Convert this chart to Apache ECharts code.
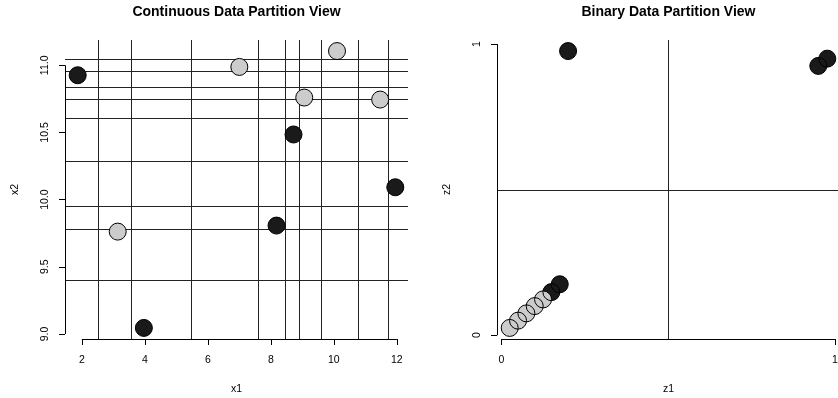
<!DOCTYPE html>
<html><head><meta charset="utf-8">
<script src="https://cdn.jsdelivr.net/npm/echarts@6/dist/echarts.min.js"></script>
<style>html,body{margin:0;padding:0;background:#fff}#c{width:838px;height:398px}</style>
</head><body><div id="c"></div>
<script>
// ---- Left panel: continuous data ----
const x1Ticks = [2, 4, 6, 8, 10, 12];
const x2Ticks = [9.0, 9.5, 10.0, 10.5, 11.0];
const contBlack = [[1.87, 10.926], [3.97, 9.045], [8.18, 9.807], [8.72, 10.485], [11.95, 10.092]];
const contGray = [[3.14, 9.762], [7.00, 10.988], [9.06, 10.760], [10.10, 11.106], [11.47, 10.745]];
const contSplitX1 = [2.51, 3.55, 5.48, 7.60, 8.45, 8.90, 9.59, 10.78, 11.71];
const contSplitX2 = [9.40, 9.78, 9.95, 10.29, 10.61, 10.75, 10.84, 10.96, 11.05];
// ---- Right panel: binary data ----
const z1Ticks = [0, 1];
const z2Ticks = [0, 1];
const binBlack = [[0.200, 0.976], [0.950, 0.925], [0.977, 0.950], [0.150, 0.148], [0.175, 0.175]];
const binGray = [[0.025, 0.025], [0.050, 0.050], [0.075, 0.075], [0.100, 0.100], [0.125, 0.123]];
const binSplitZ1 = [0.5];
const binSplitZ2 = [0.5];

const FONT = 'Liberation Sans, Arial, Helvetica, sans-serif';
const BLACK_FILL = '#1a1a1a', GRAY_FILL = '#cccccc', LINE_COL = '#222222';

// R-style 4% padding of the data range
function padRange(pts, dim) {
  const v = pts.map(p => p[dim]);
  const lo = Math.min(...v), hi = Math.max(...v), r = hi - lo;
  return [lo - 0.04 * r, hi + 0.04 * r];
}
const contAll = contBlack.concat(contGray), binAll = binBlack.concat(binGray);
const cx = padRange(contAll, 0), cy = padRange(contAll, 1);
const bx = padRange(binAll, 0), by = padRange(binAll, 1);

const crisp = v => Math.round(v) + 0.5;

function vLineSeries(gi, vals) {
  return {
    type: 'custom', xAxisIndex: gi, yAxisIndex: gi, z: 1, silent: true, clip: false,
    data: vals.map(v => [v, 0]),
    renderItem(params, api) {
      const cs = params.coordSys;
      const x = crisp(api.coord([api.value(0), api.value(1)])[0]);
      return { type: 'line', shape: { x1: x, y1: cs.y, x2: x, y2: cs.y + cs.height },
        style: { stroke: LINE_COL, lineWidth: 1 } };
    }
  };
}
function hLineSeries(gi, vals) {
  return {
    type: 'custom', xAxisIndex: gi, yAxisIndex: gi, z: 1, silent: true, clip: false,
    data: vals.map(v => [0, v]),
    renderItem(params, api) {
      const cs = params.coordSys;
      const y = crisp(api.coord([api.value(0), api.value(1)])[1]);
      return { type: 'line', shape: { x1: cs.x, y1: y, x2: cs.x + cs.width, y2: y },
        style: { stroke: LINE_COL, lineWidth: 1 } };
    }
  };
}
function axisFrameSeries(gi, xt, yt) {
  return {
    type: 'custom', xAxisIndex: gi, yAxisIndex: gi, z: 2, silent: true, clip: false,
    data: [[xt[0], yt[0]]],
    renderItem(params, api) {
      const cs = params.coordSys;
      const a = api.coord([xt[0], yt[0]]);
      const b = api.coord([xt[xt.length - 1], yt[yt.length - 1]]);
      const yb = crisp(cs.y + cs.height), xl = crisp(cs.x);
      return { type: 'group', children: [
        { type: 'line', shape: { x1: a[0], y1: yb, x2: b[0], y2: yb }, style: { stroke: '#000', lineWidth: 1 } },
        { type: 'line', shape: { x1: xl, y1: a[1], x2: xl, y2: b[1] }, style: { stroke: '#000', lineWidth: 1 } }
      ] };
    }
  };
}
function fillSeries(gi, data, col) {
  return { type: 'scatter', xAxisIndex: gi, yAxisIndex: gi, z: 3, silent: true, data,
    symbol: 'circle', symbolSize: 17, itemStyle: { color: col, opacity: 1, borderWidth: 0 } };
}
function outlineSeries(gi, data) {
  return { type: 'scatter', xAxisIndex: gi, yAxisIndex: gi, z: 4, silent: true, data,
    symbol: 'circle', symbolSize: 17,
    itemStyle: { color: 'rgba(0,0,0,0)', borderColor: '#000', borderWidth: 1, opacity: 1 } };
}

function xAxisDef(gi, range, ticks, name) {
  return {
    type: 'value', gridIndex: gi, min: range[0], max: range[1], position: 'bottom',
    name, nameLocation: 'middle', nameGap: 45,
    nameTextStyle: { fontFamily: FONT, fontSize: 10.5, color: '#000' },
    axisLine: { show: false, onZero: false },
    axisTick: { show: true, length: 6, customValues: ticks, lineStyle: { color: '#000', width: 1 } },
    axisLabel: { show: true, customValues: ticks, margin: 16, fontFamily: FONT, fontSize: 10.5, color: '#000',
      formatter: v => String(v) },
    splitLine: { show: false }
  };
}
function yAxisDef(gi, range, ticks, name, fmt) {
  return {
    type: 'value', gridIndex: gi, min: range[0], max: range[1], position: 'left',
    name, nameLocation: 'middle', nameGap: 44,
    nameTextStyle: { fontFamily: FONT, fontSize: 10.5, color: '#000' },
    axisLine: { show: false, onZero: false },
    axisTick: { show: true, length: 6, customValues: ticks, lineStyle: { color: '#000', width: 1 } },
    axisLabel: { show: true, customValues: ticks, margin: 14, rotate: 90, fontFamily: FONT, fontSize: 10.5, color: '#000',
      formatter: fmt },
    splitLine: { show: false }
  };
}

const chart = echarts.init(document.getElementById('c'), null, { renderer: 'canvas' });
chart.setOption({
  animation: false,
  backgroundColor: '#ffffff',
  title: [
    { text: 'Continuous Data Partition View', left: 236.5, top: 5, padding: 0, textAlign: 'center',
      textStyle: { fontFamily: FONT, fontSize: 14, fontWeight: 'bold', color: '#000' } },
    { text: 'Binary Data Partition View', left: 668.5, top: 5, padding: 0, textAlign: 'center',
      textStyle: { fontFamily: FONT, fontSize: 14, fontWeight: 'bold', color: '#000' } }
  ],
  grid: [
    { left: 65, top: 40, width: 343, height: 299, containLabel: false, outerBoundsMode: 'none' },
    { left: 497, top: 40, width: 343, height: 299, containLabel: false, outerBoundsMode: 'none' }
  ],
  xAxis: [
    xAxisDef(0, cx, x1Ticks, 'x1'),
    xAxisDef(1, bx, z1Ticks, 'z1')
  ],
  yAxis: [
    yAxisDef(0, cy, x2Ticks, 'x2', v => v.toFixed(1)),
    yAxisDef(1, by, z2Ticks, 'z2', v => String(v))
  ],
  series: [
    vLineSeries(0, contSplitX1),
    hLineSeries(0, contSplitX2),
    axisFrameSeries(0, x1Ticks, x2Ticks),
    fillSeries(0, contBlack, BLACK_FILL),
    fillSeries(0, contGray, GRAY_FILL),
    outlineSeries(0, contAll),
    vLineSeries(1, binSplitZ1),
    hLineSeries(1, binSplitZ2),
    axisFrameSeries(1, z1Ticks, z2Ticks),
    fillSeries(1, binBlack, BLACK_FILL),
    fillSeries(1, binGray, GRAY_FILL),
    outlineSeries(1, binAll)
  ]
});
</script></body></html>
